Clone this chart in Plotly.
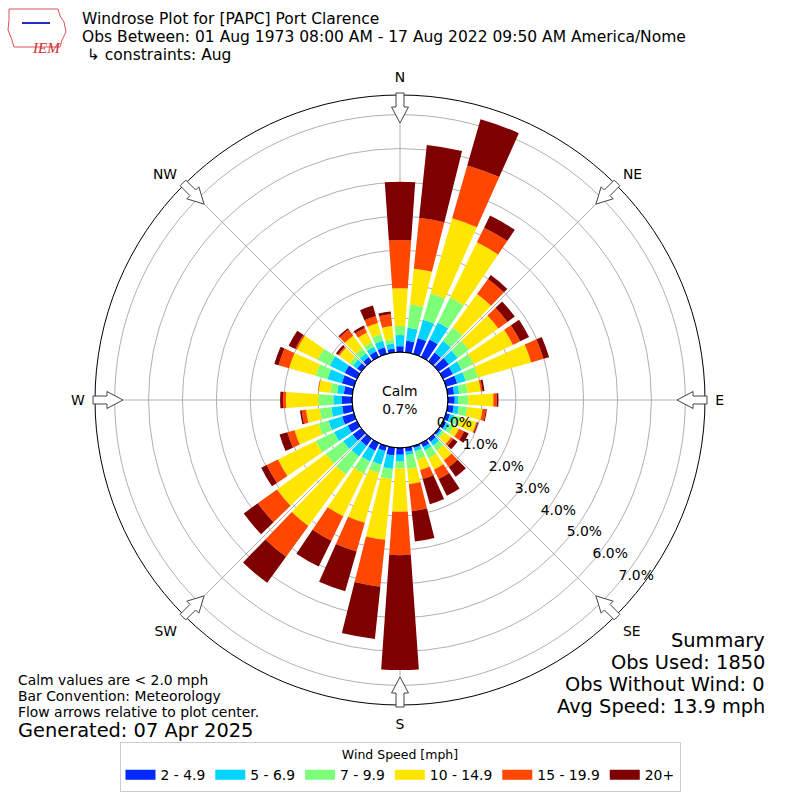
import numpy as np
import plotly.graph_objects as go

# wind directions (deg, meteorological) and frequency (%) per speed bin
directions = list(range(0, 360, 10))
bin_labels = ['2 - 4.9', '5 - 6.9', '7 - 9.9', '10 - 14.9', '15 - 19.9', '20+']
bin_colors = ['#0028ff', '#00d4ff', '#7dff7a', '#ffe600', '#ff4700', '#7f0000']

spd_2_5 = [0.17, 0.34, 0.49, 0.57, 0.32, 0.37, 0.32, 0.34, 0.19, 0.20, 0.18, 0.12,
           0.10, 0.06, 0.11, 0.13, 0.06, 0.12, 0.20, 0.23, 0.15, 0.25, 0.26, 0.31,
           0.30, 0.36, 0.30, 0.30, 0.25, 0.37, 0.40, 0.15, 0.15, 0.18, 0.20, 0.11]
spd_5_7 = [0.33, 0.39, 0.56, 0.56, 0.42, 0.32, 0.29, 0.26, 0.15, 0.10, 0.15, 0.13,
           0.10, 0.06, 0.14, 0.11, 0.10, 0.10, 0.20, 0.40, 0.42, 0.35, 0.38, 0.35,
           0.45, 0.42, 0.32, 0.25, 0.20, 0.44, 0.49, 0.15, 0.14, 0.15, 0.20, 0.15]
spd_7_10 = [0.27, 0.69, 0.80, 0.82, 0.49, 0.41, 0.39, 0.38, 0.25, 0.30, 0.25, 0.20,
            0.14, 0.08, 0.18, 0.26, 0.25, 0.41, 0.20, 0.30, 0.26, 0.40, 0.66, 0.63,
            0.60, 0.31, 0.35, 0.44, 0.20, 0.36, 0.40, 0.12, 0.18, 0.15, 0.20, 0.13]
spd_10_15 = [1.11, 1.06, 2.31, 1.81, 1.22, 1.07, 1.29, 1.63, 0.39, 0.74, 0.45, 0.48,
             0.18, 0.25, 0.35, 0.37, 0.32, 0.45, 1.28, 1.80, 1.52, 1.40, 1.88, 1.78,
             1.24, 0.73, 0.40, 0.96, 0.35, 0.82, 0.68, 0.38, 0.46, 0.32, 0.35, 0.39]
spd_15_20 = [1.42, 1.51, 1.62, 0.48, 0.55, 0.33, 0.24, 0.38, 0.05, 0.10, 0.10, 0.03,
             0.17, 0.08, 0.25, 0.31, 0.28, 0.80, 1.28, 1.39, 0.88, 0.80, 1.12, 0.70,
             0.37, 0.22, 0.13, 0.09, 0.02, 0.32, 0.05, 0.05, 0.22, 0.15, 0.21, 0.35]
spd_20 = [1.72, 2.16, 1.42, 0.40, 0.14, 0.27, 0.29, 0.17, 0.06, 0.05, 0.03, 0.03,
          0.15, 0.15, 0.35, 0.55, 0.77, 0.90, 3.39, 1.55, 1.22, 0.85, 0.95, 0.51,
          0.18, 0.24, 0.05, 0.08, 0.00, 0.13, 0.22, 0.07, 0.05, 0.08, 0.32, 0.08]
bins = [spd_2_5, spd_5_7, spd_7_10, spd_10_15, spd_15_20, spd_20]

rings = [0, 1, 2, 3, 4, 5, 6, 7]
compass = ['N', 'NE', 'E', 'SE', 'S', 'SW', 'W', 'NW']
calm_pct = 0.7

# page geometry (px)
W = H = 800
cx, cy, R = 400, 400, 305
hole_px = 48


def px(x, y):
    return x / W, 1 - y / H


def arrow_path(deg):
    # outline arrow on the rim, pointing at the centre
    t = np.radians(deg)
    ux, uy = np.sin(t), -np.cos(t)
    vx, vy = np.cos(t), np.sin(t)
    pts = []
    for r, w in [(R + 2, 4), (R - 12, 4), (R - 12, 8.5), (R - 28, 0),
                 (R - 12, -8.5), (R - 12, -4), (R + 2, -4)]:
        pts.append(px(cx + r * ux + w * vx, cy + r * uy + w * vy))
    return 'M ' + ' L '.join('%.5f %.5f' % p for p in pts) + ' Z'


fig = go.Figure()
for vals, lab, col in zip(bins, bin_labels, bin_colors):
    fig.add_trace(go.Barpolar(r=vals, theta=directions, width=8, name=lab,
                              showlegend=False,
                              marker=dict(color=col, line=dict(width=0))))
# legend swatches (wide rectangles like the original)
for lab, col in zip(bin_labels, bin_colors):
    fig.add_trace(go.Scatterpolar(r=[None], theta=[None], mode='lines', name=lab,
                                  line=dict(color=col, width=10), hoverinfo='skip'))

fig.add_trace(go.Scatterpolar(r=rings, theta=[130] * len(rings), mode='text',
                              text=['%.1f%%' % v for v in rings],
                              textposition='top right',
                              textfont=dict(size=13.9, color='black'),
                              showlegend=False, hoverinfo='skip'))

shapes = [dict(type='circle', xref='paper', yref='paper',
               x0=(cx - hole_px) / W, x1=(cx + hole_px) / W,
               y0=1 - (cy + hole_px) / H, y1=1 - (cy - hole_px) / H,
               line=dict(color='black', width=1), fillcolor='rgba(0,0,0,0)')]
for d in range(0, 360, 45):
    shapes.append(dict(type='path', xref='paper', yref='paper', path=arrow_path(d),
                       fillcolor='white', line=dict(color='#444444', width=1)))

# IEM logo, roughly
logo = [(9, 9), (58, 9), (60, 16), (64, 22), (66, 32), (62, 40), (60, 47),
        (14, 47), (12, 40), (8, 30), (9, 20)]
shapes.append(dict(type='path', xref='paper', yref='paper',
                   path='M ' + ' L '.join('%.5f %.5f' % px(*p) for p in logo) + ' Z',
                   line=dict(color='#e05050', width=1)))
shapes.append(dict(type='line', xref='paper', yref='paper',
                   x0=22 / W, y0=1 - 23 / H, x1=50 / W, y1=1 - 23 / H,
                   line=dict(color='#2030c0', width=2)))

ann = []
titles = ['Windrose Plot for [PAPC] Port Clarence',
          'Obs Between: 01 Aug 1973 08:00 AM - 17 Aug 2022 09:50 AM America/Nome',
          '\u00a0↳ constraints: Aug']
for i, t in enumerate(titles):
    ann.append(dict(text=t, x=80 / W, y=1 - (19 + 18 * i) / H, xref='paper', yref='paper',
                    xanchor='left', yanchor='middle', showarrow=False,
                    font=dict(size=15.5, color='black')))
ann.append(dict(text='<i>IEM</i>', x=30 / W, y=1 - 38 / H, xref='paper', yref='paper',
                showarrow=False, font=dict(size=15, color='#d03030', family='Liberation Serif')))
ann.append(dict(text='Calm<br>%.1f%%' % calm_pct, x=0.5, y=0.5, xref='paper', yref='paper',
                showarrow=False, font=dict(size=13.9, color='black')))

summary = ['Summary', 'Obs Used: 1850', 'Obs Without Wind: 0', 'Avg Speed: 13.9 mph']
for i, t in enumerate(summary):
    ann.append(dict(text=t, x=767 / W, y=1 - (640 + 22 * i) / H, xref='paper', yref='paper',
                    xanchor='right', yanchor='middle', showarrow=False,
                    font=dict(size=19.4, color='black')))

notes = ['Calm values are < 2.0 mph', 'Bar Convention: Meteorology',
         'Flow arrows relative to plot center.']
for i, t in enumerate(notes):
    ann.append(dict(text=t, x=16 / W, y=1 - (680 + 16 * i) / H, xref='paper', yref='paper',
                    xanchor='left', yanchor='middle', showarrow=False,
                    font=dict(size=13.9, color='black')))
ann.append(dict(text='Generated: 07 Apr 2025', x=16 / W, y=1 - 730 / H, xref='paper',
                yref='paper', xanchor='left', yanchor='middle', showarrow=False,
                font=dict(size=19.4, color='black')))

fig.update_layout(
    width=W, height=H,
    margin=dict(l=0, r=0, t=0, b=0),
    paper_bgcolor='white', plot_bgcolor='white',
    font=dict(family='DejaVu Sans', color='black'),
    polar=dict(
        domain=dict(x=[(cx - R) / W, (cx + R) / W], y=[1 - (cy + R) / H, 1 - (cy - R) / H]),
        hole=hole_px / R,
        bgcolor='white',
        barmode='stack',
        radialaxis=dict(range=[0, 7.58], tickvals=rings, showticklabels=False,
                        ticks='', showline=False, gridcolor='#b0b0b0', gridwidth=1,
                        layer='above traces'),
        angularaxis=dict(rotation=90, direction='clockwise',
                         tickvals=list(range(0, 360, 45)), ticktext=compass,
                         tickfont=dict(size=13.9), ticks='outside', ticklen=7,
                         tickcolor='rgba(0,0,0,0)', showline=True, linecolor='black',
                         linewidth=1, gridcolor='#b0b0b0', layer='above traces'),
    ),
    legend=dict(orientation='h', x=0.5, xanchor='center', y=1 - 742 / H, yanchor='top',
                bordercolor='#cccccc', borderwidth=1, font=dict(size=13.9),
                title=dict(text='Wind Speed [mph]', side='top center', font=dict(size=12.5))),
    shapes=shapes,
    annotations=ann,
)

fig.write_html('out.html', config={'displayModeBar': False},
               post_script="document.body.style.margin='0px';")
